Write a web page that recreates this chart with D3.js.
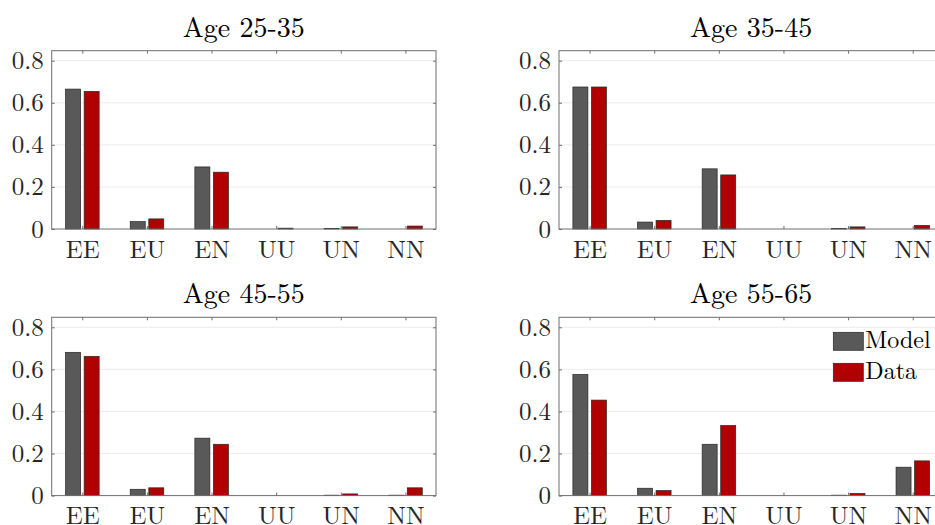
<!DOCTYPE html>
<html>
<head>
<meta charset="utf-8">
<script src="https://cdn.jsdelivr.net/npm/d3@7"></script>
<style>
  html, body { margin: 0; padding: 0; background: #fff; overflow: hidden; }
  svg { display: block; }
  text { font-family: "Latin Modern Roman", "CMU Serif", "Liberation Serif", "DejaVu Serif", serif; }
</style>
</head>
<body>
<svg id="chart" width="935" height="525"></svg>
<script>
// Transition shares by age group: model vs. data
const categories = ["EE", "EU", "EN", "UU", "UN", "NN"];
const panelTitles = ["Age 25-35", "Age 35-45", "Age 45-55", "Age 55-65"];
const seriesNames = ["Model", "Data"];
const seriesColors = ["#595959", "#b00000"];

const model2535 = [0.665, 0.035, 0.295, 0.000, 0.003, 0.000];
const data2535  = [0.654, 0.048, 0.270, 0.004, 0.010, 0.014];
const model3545 = [0.675, 0.033, 0.286, 0.000, 0.002, 0.000];
const data3545  = [0.675, 0.041, 0.257, 0.000, 0.010, 0.017];
const model4555 = [0.681, 0.030, 0.273, 0.000, 0.002, 0.002];
const data4555  = [0.662, 0.037, 0.244, 0.000, 0.008, 0.037];
const model5565 = [0.576, 0.035, 0.244, 0.000, 0.002, 0.135];
const data5565  = [0.454, 0.024, 0.333, 0.000, 0.010, 0.165];

const yTicks = [0, 0.2, 0.4, 0.6, 0.8];
const yTickLabels = ["0", "0.2", "0.4", "0.6", "0.8"];

const panels = [
  { title: panelTitles[0], series: [model2535, data2535], left: 51.7, top: 50.7 },
  { title: panelTitles[1], series: [model3545, data3545], left: 559,  top: 50.7 },
  { title: panelTitles[2], series: [model4555, data4555], left: 51.7, top: 317.3 },
  { title: panelTitles[3], series: [model5565, data5565], left: 559,  top: 317.3, legend: true }
];

const W = 384.3, H = 178.3;
const svg = d3.select("#chart");

const x = d3.scaleLinear().domain([0.527, 6.473]).range([0, W]);
const y = d3.scaleLinear().domain([0, 0.8475]).range([H, 0]);
const barOffset = [-0.142, 0.145];
const barUnits = 0.232;
const barW = x(1 + barUnits) - x(1);

const tickFmt = (d) => yTickLabels[yTicks.indexOf(d)];
const catFmt = (d) => categories[d - 1];
const catIdx = categories.map((c, i) => i + 1);

panels.forEach((p) => {
  const g = svg.append("g").attr("transform", `translate(${p.left},${p.top})`);

  // horizontal grid
  g.append("g").selectAll("line").data(yTicks.filter(t => t > 0)).join("line")
    .attr("x1", 0).attr("x2", W)
    .attr("y1", d => y(d)).attr("y2", d => y(d))
    .attr("stroke", "#ececec").attr("stroke-width", 1);

  // bars
  p.series.forEach((vals, s) => {
    g.append("g").selectAll("rect").data(vals).join("rect")
      .attr("x", (d, i) => x(i + 1 + barOffset[s]) - barW / 2)
      .attr("y", d => y(d))
      .attr("width", barW)
      .attr("height", d => H - y(d))
      .attr("fill", seriesColors[s])
      .attr("stroke", "#262626")
      .attr("stroke-width", 0.7);
  });

  // axes with inward ticks
  const left = g.append("g").call(d3.axisLeft(y).tickValues(yTicks).tickFormat(tickFmt).tickSize(-3).tickPadding(8));
  const right = g.append("g").attr("transform", `translate(${W},0)`)
    .call(d3.axisRight(y).tickValues(yTicks).tickFormat("").tickSize(-3));
  const bottom = g.append("g").attr("transform", `translate(0,${H})`)
    .call(d3.axisBottom(x).tickValues(catIdx).tickFormat(catFmt).tickSize(-3).tickPadding(11));
  const topAx = g.append("g")
    .call(d3.axisTop(x).tickValues(catIdx).tickFormat("").tickSize(-3));

  [left, right, bottom, topAx].forEach(a => {
    a.select(".domain").remove();
    a.selectAll(".tick line").attr("stroke", "#6e6e6e");
    a.selectAll("text").attr("fill", "#262626").style("font-size", "25px")
      .style("font-family", "\"Latin Modern Roman\", \"CMU Serif\", \"Liberation Serif\", serif");
  });

  // box
  g.append("rect").attr("x", 0).attr("y", 0).attr("width", W).attr("height", H)
    .attr("fill", "none").attr("stroke", "#6e6e6e").attr("stroke-width", 1);

  // title
  g.append("text").attr("x", W / 2).attr("y", -14).attr("text-anchor", "middle")
    .attr("fill", "#000").style("font-size", "28px").text(p.title);

  if (p.legend) {
    const lg = g.append("g").attr("transform", `translate(${833.3 - p.left},${332.3 - p.top})`);
    seriesNames.forEach((n, i) => {
      lg.append("rect").attr("x", 0).attr("y", i * 31).attr("width", 30).attr("height", 18)
        .attr("fill", seriesColors[i]).attr("stroke", "#262626").attr("stroke-width", 0.7);
      lg.append("text").attr("x", 32).attr("y", i * 31 + 16)
        .attr("fill", "#000").style("font-size", "24px").text(n);
    });
  }
});
</script>
</body>
</html>
